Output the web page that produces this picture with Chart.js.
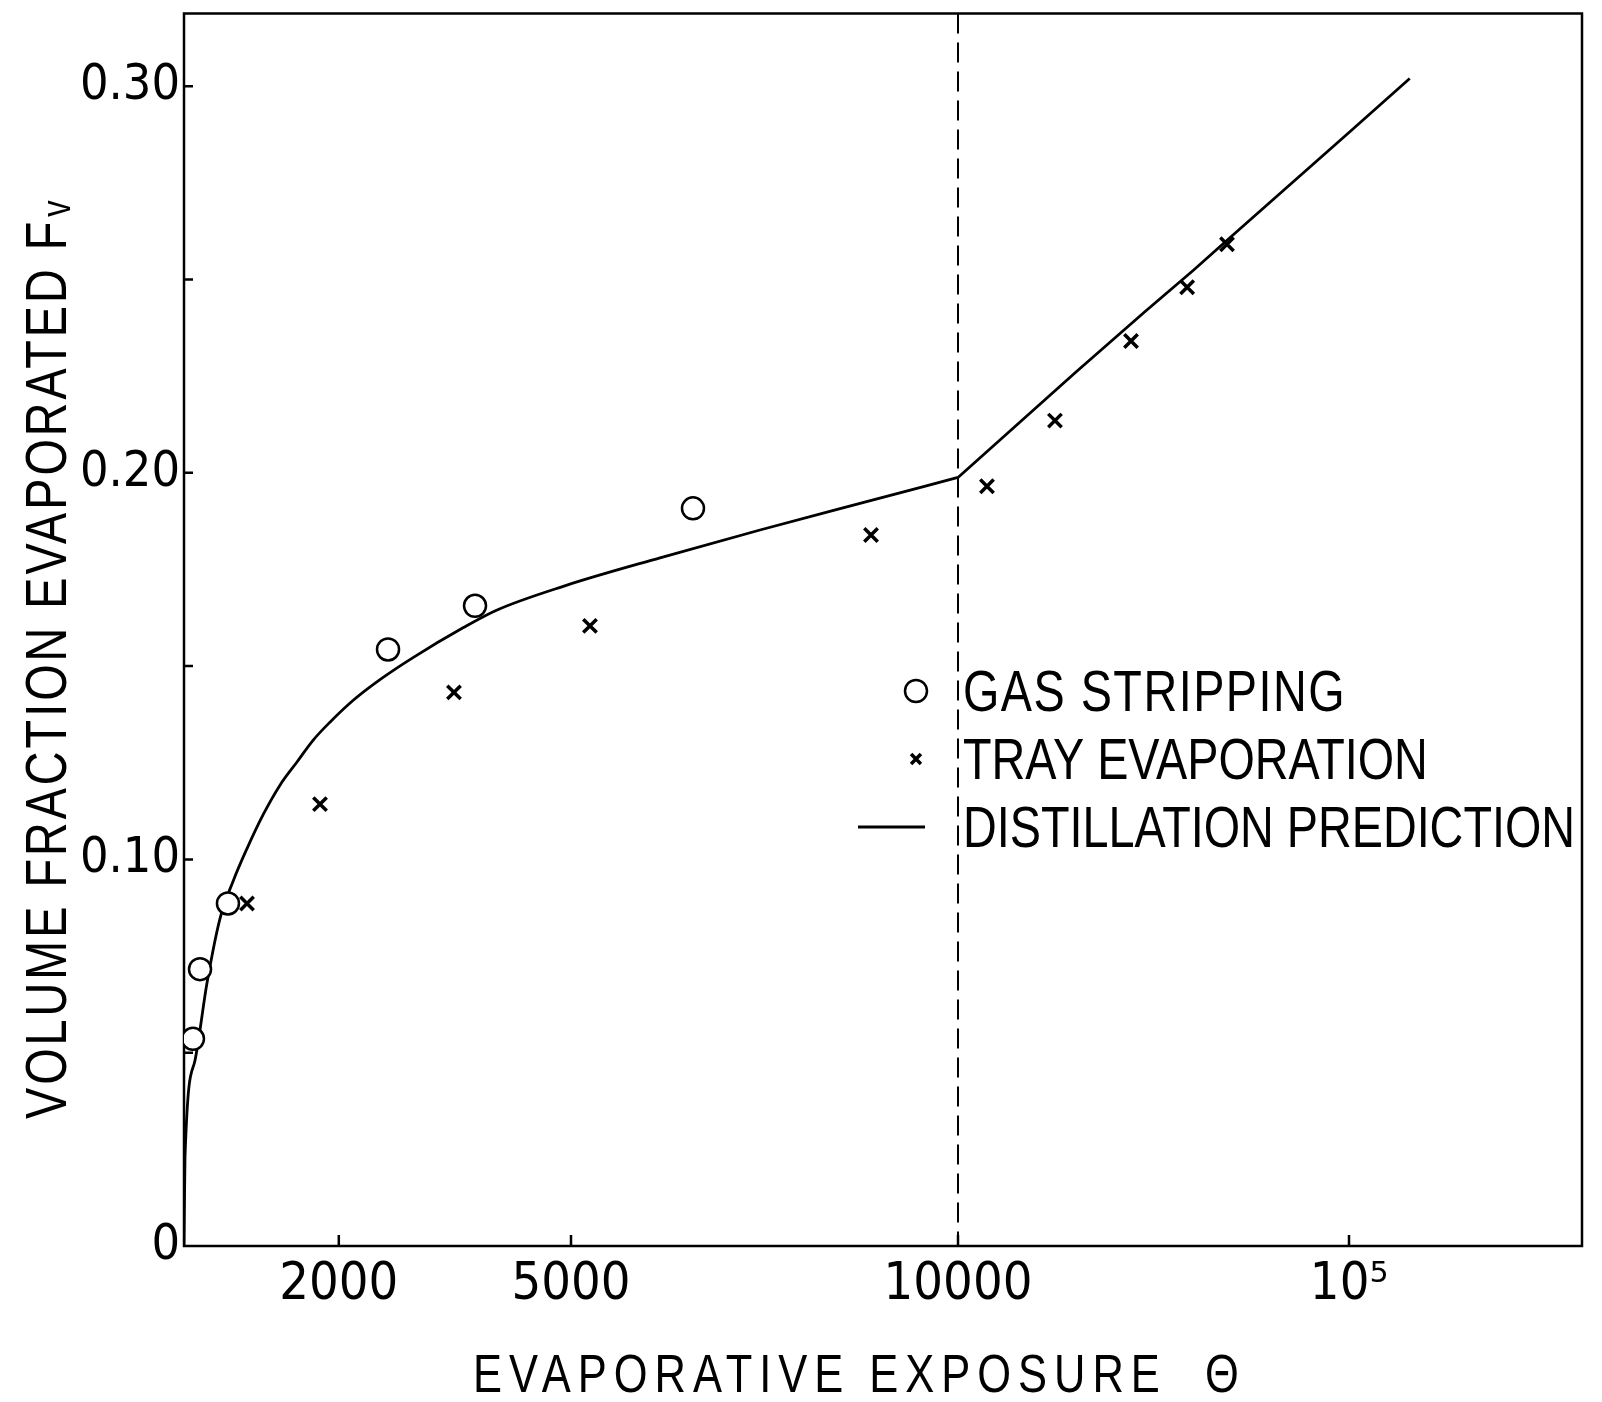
<!DOCTYPE html>
<html lang="en">
<head>
<meta charset="UTF-8">
<title>Volume fraction evaporated vs evaporative exposure</title>
<script src="https://cdn.jsdelivr.net/npm/chart.js"></script>
<style>
  html, body { margin: 0; padding: 0; background: #fff; }
  canvas { display: block; }
</style>
</head>
<body>
<canvas id="chart" width="1602" height="1402"></canvas>
<script>
const TICK_FONT = '"DejaVu Sans Condensed", "Liberation Sans", sans-serif';
const TEXT_FONT = '"Liberation Sans", sans-serif';
const SQUEEZE = 0.82; // narrow lettering, drawn by squeezing Liberation Sans

// gas stripping (open circles)
const gasX = [116, 207, 568, 2636, 3760, 6576];
const gasY = [0.0536, 0.0716, 0.0886, 0.1543, 0.1656, 0.1908];

// tray evaporation (crosses)
const trayX = [814, 1757, 3488, 5245, 8876, 11860, 17700, 27700, 38550, 48750];
const trayY = [0.0886, 0.1143, 0.1432, 0.1604, 0.1839, 0.1965, 0.2135, 0.2341, 0.248, 0.2591];

// distillation prediction, curved part (linear axis region)
const predX = [0, 13, 142, 297, 465, 633, 814, 1021, 1240, 1460, 1667, 1886, 2183, 2532, 2959, 3605,
               4031, 4910, 6150, 7442, 8734, 10000];
const predY = [0, 0.023, 0.048, 0.068, 0.0847, 0.0943, 0.1028, 0.1115, 0.1192, 0.1252, 0.1308, 0.1355,
               0.1411, 0.1465, 0.1522, 0.1599, 0.1644, 0.1707, 0.178, 0.1852, 0.1921, 0.1988];
// distillation prediction, straight part (log axis region)
const predLogX = [10000, 20000, 30000, 40000, 50000, 100000, 143000];
const predLogY = [0.1988, 0.226, 0.2416, 0.2524, 0.2611, 0.288, 0.302];

const xTicks = [2000, 5000, 10000, 100000];
const xTickLabels = ['2000', '5000', '10000', '10\u2075'];
const yTicks = [0, 0.05, 0.10, 0.15, 0.20, 0.25, 0.30];
const yTickLabels = ['0', '', '0.10', '', '0.20', '', '0.30'];

const labels = ['GAS STRIPPING', 'TRAY EVAPORATION', 'DISTILLATION PREDICTION'];

function pts(xs, ys) {
    return xs.map((x, i) => ({ x: x, y: ys[i] }));
}

// linear up to the break, logarithmic beyond it
class SplitScale extends Chart.LinearScale {
    static id = 'split';
    static defaults = {};

    toDecimal(v) {
        const o = this.options;
        if (v <= o.breakAt) return v / o.breakAt * o.linearPart;
        return o.linearPart + Math.log10(v / o.breakAt) * o.decadePart;
    }
    getPixelForValue(v) {
        return this.getPixelForDecimal(this.toDecimal(v));
    }
    getValueForPixel(p) {
        const o = this.options;
        const d = this.getDecimalForPixel(p);
        if (d <= o.linearPart) return d / o.linearPart * o.breakAt;
        return o.breakAt * Math.pow(10, (d - o.linearPart) / o.decadePart);
    }
}
Chart.register(SplitScale);

function squeezedText(ctx, text, x, y, size, spacing) {
    ctx.save();
    ctx.font = size + 'px ' + TEXT_FONT;
    ctx.letterSpacing = (spacing / SQUEEZE) + 'px';
    ctx.scale(SQUEEZE, 1);
    ctx.fillText(text, x / SQUEEZE, y);
    const w = ctx.measureText(text).width * SQUEEZE;
    ctx.restore();
    return w;
}

function noPadding(axis) {
    axis.paddingTop = 0;
    axis.paddingBottom = 0;
    axis.paddingLeft = 0;
    axis.paddingRight = 0;
}

const decor = {
    id: 'decor',
    beforeDatasetsDraw(chart) {
        const ctx = chart.ctx;
        const a = chart.chartArea;
        const xs = chart.scales.x, ys = chart.scales.y;
        ctx.save();
        ctx.strokeStyle = '#000';
        ctx.lineWidth = 2.5;
        ctx.strokeRect(a.left, a.top, a.right - a.left, a.bottom - a.top);

        ctx.beginPath();
        xs.ticks.forEach(t => {
            const px = xs.getPixelForValue(t.value);
            ctx.moveTo(px, a.bottom);
            ctx.lineTo(px, a.bottom - 11);
        });
        ys.ticks.forEach(t => {
            if (t.value === 0) return;
            const py = ys.getPixelForValue(t.value);
            ctx.moveTo(a.left, py);
            ctx.lineTo(a.left + 9, py);
        });
        ctx.stroke();

        // dashed line at the scale break
        const bx = xs.getPixelForValue(xs.options.breakAt);
        ctx.lineWidth = 2;
        ctx.setLineDash([20, 9]);
        ctx.beginPath();
        ctx.moveTo(bx, a.top);
        ctx.lineTo(bx, a.bottom);
        ctx.stroke();
        ctx.restore();
    },
    afterDraw(chart) {
        const ctx = chart.ctx;
        ctx.save();
        ctx.strokeStyle = '#000';
        ctx.textAlign = 'left';
        ctx.textBaseline = 'alphabetic';

        // legend, one row per labelled series
        const rows = [691, 759, 827];
        chart.data.datasets.filter(ds => !ds.noLegend).forEach((ds, i) => {
            const y = rows[i];
            if (ds.showLine) {
                ctx.lineWidth = ds.borderWidth;
                ctx.beginPath();
                ctx.moveTo(858, y);
                ctx.lineTo(925, y);
                ctx.stroke();
            } else {
                ctx.lineWidth = ds.borderWidth;
                ctx.fillStyle = ds.backgroundColor;
                Chart.helpers.drawPoint(ctx, {
                    pointStyle: ds.pointStyle,
                    radius: ds.pointStyle === 'circle' ? 11 : 7,
                    rotation: 0,
                    borderWidth: ds.borderWidth
                }, 916, y);
            }
            ctx.fillStyle = '#000';
            squeezedText(ctx, ds.label, 963, y + 20, 57, i === 0 ? 1.5 : 0);
        });

        // x title
        ctx.fillStyle = '#000';
        squeezedText(ctx, 'EVAPORATIVE EXPOSURE  \u0398', 473, 1392, 53, 7);

        // y title, rotated
        ctx.translate(66, 1119);
        ctx.rotate(-Math.PI / 2);
        const w = squeezedText(ctx, 'VOLUME FRACTION EVAPORATED F', 0, 0, 57, 3);
        squeezedText(ctx, 'v', w + 2, 4, 40, 0);
        ctx.restore();
    }
};

new Chart(document.getElementById('chart'), {
    type: 'scatter',
    data: {
        datasets: [
            {
                label: labels[0],
                data: pts(gasX, gasY),
                pointStyle: 'circle',
                pointRadius: 11,
                borderWidth: 2.5,
                borderColor: '#000',
                backgroundColor: '#fff'
            },
            {
                label: labels[1],
                data: pts(trayX, trayY),
                pointStyle: 'crossRot',
                pointRadius: 9.5,
                borderWidth: 3.5,
                borderColor: '#000',
                backgroundColor: '#000'
            },
            {
                label: labels[2],
                data: pts(predX, predY),
                showLine: true,
                pointRadius: 0,
                borderWidth: 2.8,
                borderColor: '#000',
                backgroundColor: '#000',
                cubicInterpolationMode: 'monotone',
                borderJoinStyle: 'round'
            },
            {
                label: labels[2],
                noLegend: true,
                data: pts(predLogX, predLogY),
                showLine: true,
                pointRadius: 0,
                borderWidth: 2.8,
                borderColor: '#000',
                backgroundColor: '#000',
                tension: 0,
                borderJoinStyle: 'round'
            }
        ]
    },
    options: {
        responsive: false,
        animation: false,
        devicePixelRatio: 1,
        events: [],
        layout: { padding: { top: 8, right: 20, left: 0, bottom: 0 } },
        plugins: {
            legend: { display: false },
            tooltip: { enabled: false }
        },
        scales: {
            x: {
                type: 'split',
                min: 0,
                max: 394000,
                bounds: 'data',
                breakAt: 10000,
                linearPart: 774 / 1398,
                decadePart: 391 / 1398,
                afterBuildTicks: axis => { axis.ticks = xTicks.map(v => ({ value: v })); },
                afterFit: axis => { axis.height = 156; noPadding(axis); },
                grid: { display: false, drawTicks: false },
                border: { display: false },
                ticks: {
                    autoSkip: false,
                    maxRotation: 0,
                    padding: 8,
                    color: '#000',
                    font: { family: TICK_FONT, size: 52 },
                    callback: (v, i) => xTickLabels[i]
                }
            },
            y: {
                type: 'linear',
                min: 0,
                max: 0.3188,
                bounds: 'data',
                afterBuildTicks: axis => { axis.ticks = yTicks.map(v => ({ value: v })); },
                afterFit: axis => { axis.width = 184; noPadding(axis); },
                grid: { display: false, drawTicks: false },
                border: { display: false },
                ticks: {
                    autoSkip: false,
                    padding: 4,
                    color: '#000',
                    font: { family: TICK_FONT, size: 50 },
                    callback: (v, i) => yTickLabels[i]
                }
            }
        }
    },
    plugins: [decor]
});
</script>
</body>
</html>
